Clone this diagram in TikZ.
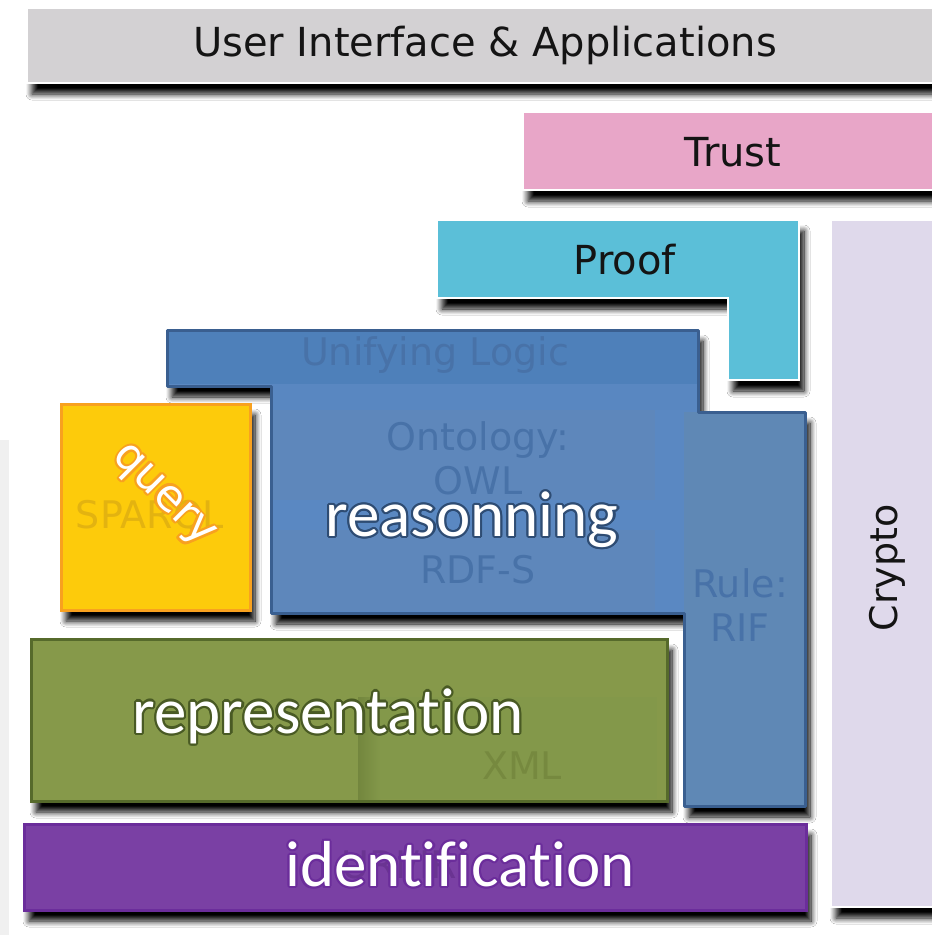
\documentclass[tikz,border=0pt]{standalone}
\usepackage{fontspec}
\setmainfont{DejaVu Sans}
\newfontfamily\calib[Ligatures=NoCommon]{Carlito}
\usetikzlibrary{shadows.blur}
\definecolor{uigray}{HTML}{D3D1D3}
\definecolor{trustpink}{HTML}{E8A6C8}
\definecolor{proofcyan}{HTML}{5BBFD8}
\definecolor{cryptolav}{HTML}{DFD9EB}
\definecolor{blueA}{HTML}{4E80BA}
\definecolor{blueB}{HTML}{5A88C2}
\definecolor{blueC}{HTML}{5E87BB}
\definecolor{blueR}{HTML}{5F88B5}
\definecolor{blueline}{HTML}{3A5F90}
\definecolor{bluetext}{HTML}{4872A8}
\definecolor{yel}{HTML}{FDCB0B}
\definecolor{yelline}{HTML}{F8A11F}
\definecolor{yeltext}{HTML}{E3B310}
\definecolor{grn}{HTML}{86994A}
\definecolor{grnB}{HTML}{83984A}
\definecolor{grnline}{HTML}{566A2B}
\definecolor{grntext}{HTML}{76893F}
\definecolor{pur}{HTML}{7A40A4}
\definecolor{purline}{HTML}{6B2D9B}
\definecolor{purtext}{HTML}{6A3492}
\tikzset{
  sh/.style={blur shadow={shadow xshift=5pt,shadow yshift=-11pt,shadow blur radius=6pt,shadow blur steps=10,shadow opacity=100}},
  lbl/.style={font=\fontsize{40}{46}\selectfont, text=black!92, inner sep=0pt, align=center},
  flbl/.style={font=\fontsize{38}{44}\selectfont, inner sep=0pt, align=center},
  big/.style={font=\calib\fontsize{65}{70}\selectfont, inner sep=0pt},
  qry/.style={font=\fontsize{44}{48}\selectfont, inner sep=0pt, rotate=-45},
}
\newcommand\olabel[5]{%
  \foreach \ang in {0,30,...,330}{\node[#3,text=#4] (#1-\ang) at (#2) [shift={(\ang:2.2pt)}] {#5};}
  \node[#3,text=white] (#1) at (#2) {#5};}
\begin{document}
\begin{tikzpicture}[x=1pt,y=-1pt]
\useasboundingbox (0,0) rectangle (932,935);
\fill[white] (0,0) rectangle (932,935);
\fill[black!6] (0,440) rectangle (9,935);
% User interface
\path[fill=uigray,draw=white,line width=2pt,sh] (27,8) rectangle (945,83);
\node[lbl] (ui) at (485,45) {User Interface \& Applications};
% Trust
\path[fill=trustpink,draw=white,line width=2pt,sh] (523,112) rectangle (945,190);
\node[lbl] (trust) at (733,152) {Trust};
% Crypto
\path[fill=cryptolav,draw=white,line width=2pt,sh] (831,220) rectangle (945,907);
\node[flbl,text=black!92,rotate=90] (crypto) at (887,568) {Crypto};
% Proof
\path[fill=proofcyan,draw=white,line width=2pt,sh] (437,220) -- (799,220) -- (799,380) -- (728,380) -- (728,298) -- (437,298) -- cycle;
\node[lbl] (proof) at (625,260) {Proof};
% Blue reasoning block
\path[fill=blueB,sh] (167,330) -- (698,330) -- (698,412) -- (805,412) -- (805,806) -- (684,806) -- (684,613) -- (271,613) -- (271,386) -- (167,386) -- cycle;
\fill[blueA] (167,330) rectangle (698,384);
\fill[blueB!90!blueA] (271,384) rectangle (698,410);
\fill[blueC] (273,410) rectangle (655,500);
\fill[blueB] (273,500) rectangle (655,530);
\fill[blueC] (273,530) rectangle (655,611);
\fill[blueR] (684,412) rectangle (805,806);
\draw[blueline,line width=3pt,line join=round] (167,330) -- (698,330) -- (698,412) -- (805,412) -- (805,806) -- (684,806) -- (684,613) -- (271,613) -- (271,386) -- (167,386) -- cycle;
\node[flbl,text=bluetext] (unif) at (435,355) {Unifying Logic};
\node[flbl,text=bluetext] (onto) at (478,458) {Ontology:\\OWL};
\node[flbl,text=bluetext] (rdfs) at (478,570) {RDF-S};
\node[flbl,text=bluetext] (rule) at (740,605) {Rule:\\RIF};
% Query
\path[fill=yel,draw=yelline,line width=3pt,sh] (61,404) rectangle (250,610);
\node[flbl,text=yeltext] (sparql) at (150,517) {SPARQL};
\olabel{query}{162,497}{qry}{yelline}{query}
% Representation
\path[fill=grn,draw=grnline,line width=3pt,sh] (31,639) rectangle (667,801);
\fill[grnB] (358,697) rectangle (657,799);
\shade[left color=grnline!40!grn,right color=grnB] (358,697) rectangle (380,799);
\node[flbl,text=grntext] (xml) at (522,766) {XML};
% Identification
\path[fill=pur,draw=purline,line width=3pt,sh] (24,824) rectangle (806,910);
\node[flbl,text=purtext] (uri) at (405,866) {URI/IRI};
% Big labels
\olabel{reas}{472,520}{big}{blueline!80!black}{reasonning}
\olabel{repr}{328,716}{big}{grnline!85!black}{representa\kern0pt tion}
\olabel{ident}{460,864}{big}{purline}{identi\kern0pt f\kern0pt ica\kern0pt tion}
\end{tikzpicture}
\end{document}
